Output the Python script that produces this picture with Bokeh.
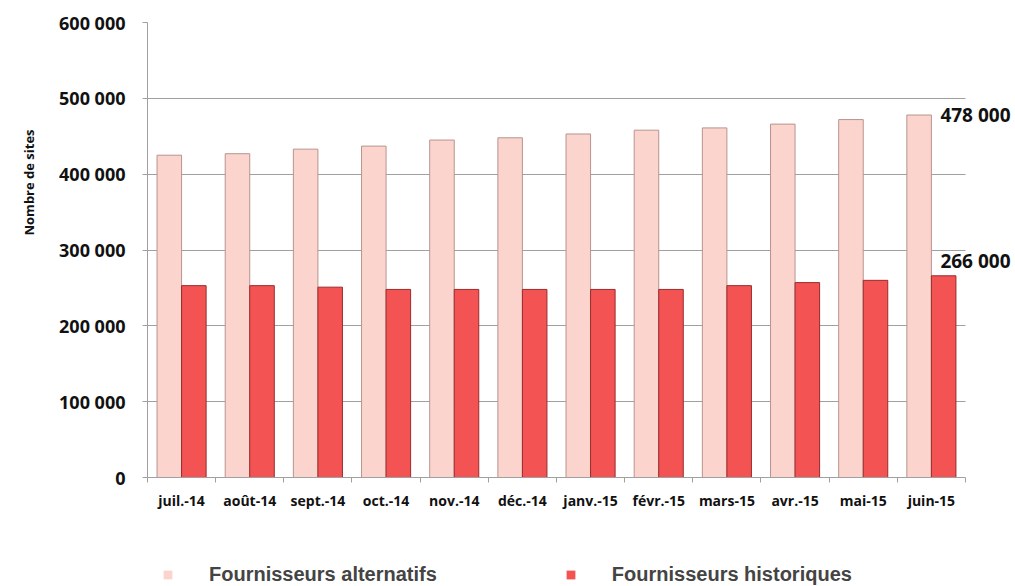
from bokeh.plotting import figure
from bokeh.layouts import column
from bokeh.models import (Range1d, FixedTicker, Label, Legend, LegendItem,
                          ColumnDataSource, Title)
from bokeh.transform import dodge
from bokeh.embed import file_html
from bokeh.resources import INLINE

months = ["juil.-14", "août-14", "sept.-14", "oct.-14", "nov.-14", "déc.-14",
          "janv.-15", "févr.-15", "mars-15", "avr.-15", "mai-15", "juin-15"]
alternatifs = [425000, 427000, 433000, 437000, 445000, 448000,
               453000, 458000, 461000, 466000, 472000, 478000]
historiques = [253000, 253000, 251000, 248000, 248000, 248000,
               248000, 248000, 253000, 257000, 260000, 266000]
y_ticks = [0, 100000, 200000, 300000, 400000, 500000, 600000]
series_names = ["Fournisseurs alternatifs", "Fournisseurs historiques"]
y_title = "Nombre de sites"

PINK = "#FBD4CE"
RED = "#F45353"
PINK_EDGE = "#B8948E"
RED_EDGE = "#9A2B2B"
GRID = "#A0A0A0"
FONT = "Open Sans"
W = 1012

def fmt(v):
    return f"{v:,}".replace(",", " ")

n = len(months)
centers = [i + 0.5 for i in range(n)]
src = ColumnDataSource(dict(x=centers, alt=alternatifs, hist=historiques))

p = figure(x_range=Range1d(0, n + 0.69), y_range=Range1d(0, 600000),
           width=W, height=516, output_backend="svg", toolbar_location=None,
           min_border_left=147, min_border_right=0, min_border_top=22,
           min_border_bottom=39)
p.outline_line_color = None

p.vbar(x=dodge("x", -0.18), top="alt", width=0.36, source=src,
       fill_color=PINK, line_color=PINK_EDGE, line_width=1)
p.vbar(x=dodge("x", 0.18), top="hist", width=0.36, source=src,
       fill_color=RED, line_color=RED_EDGE, line_width=1)

# y axis
yax = p.yaxis[0]
yax.ticker = FixedTicker(ticks=y_ticks)
yax.major_label_overrides = {v: fmt(v) for v in y_ticks}
yax.major_label_text_font = FONT
yax.major_label_text_font_style = "bold"
yax.major_label_text_font_size = "18px"
yax.major_label_text_color = "#111111"
yax.major_label_standoff = 17
yax.major_tick_out = 5
yax.major_tick_in = 0
yax.minor_tick_out = 0
yax.minor_tick_in = 0
yax.axis_line_color = GRID
yax.major_tick_line_color = GRID

p.add_layout(Title(text=y_title, align="left", offset=242, standoff=34,
                   vertical_align="top",
                   text_font=FONT, text_font_style="bold", text_font_size="13px",
                   text_color="#111111"), "left")

p.ygrid.ticker = FixedTicker(ticks=y_ticks)
p.ygrid.grid_line_color = GRID
try:
    p.ygrid.cross_bounds = (0, n)
except Exception:
    pass
p.xgrid.grid_line_color = None

# x axis: labels at category centres, tick marks at category boundaries
xax = p.xaxis[0]
xax.bounds = (0, n)
xax.ticker = FixedTicker(ticks=centers, minor_ticks=list(range(n + 1)))
xax.major_label_overrides = {c: m for c, m in zip(centers, months)}
xax.axis_line_color = GRID
xax.major_tick_out = 0
xax.major_tick_in = 0
xax.minor_tick_out = 5
xax.minor_tick_in = 0
xax.minor_tick_line_color = GRID
xax.major_label_text_font = FONT
xax.major_label_text_font_style = "bold"
xax.major_label_text_font_size = "14px"
xax.major_label_text_color = "#111111"
xax.major_label_standoff = 8

# end labels
last = centers[-1]
p.add_layout(Label(x=last, y=alternatifs[-1], x_offset=9,
                   text=fmt(alternatifs[-1]), text_font=FONT, text_font_style="bold",
                   text_font_size="19px", text_baseline="middle", text_color="#111111"))
p.add_layout(Label(x=last, y=historiques[-1], x_offset=9, y_offset=15,
                   text=fmt(historiques[-1]), text_font=FONT, text_font_style="bold",
                   text_font_size="19px", text_baseline="middle", text_color="#111111"))

# legend strip below the chart (zero-height swatch proxies)
lg = figure(width=W, height=70, output_backend="svg", toolbar_location=None,
            x_range=Range1d(0, 1), y_range=Range1d(0, 1),
            min_border=0, outline_line_color=None)
lg.axis.visible = False
lg.grid.visible = False
k_alt = lg.vbar(x=[0.5], top=[0], bottom=[0], width=0.1, fill_color=PINK, line_color=None)
k_hist = lg.vbar(x=[0.5], top=[0], bottom=[0], width=0.1, fill_color=RED, line_color=None)
legend = Legend(items=[LegendItem(label=series_names[0], renderers=[k_alt]),
                       LegendItem(label=series_names[1], renderers=[k_hist])],
                orientation="horizontal", location=(15, 0),
                glyph_width=11, glyph_height=11, label_standoff=36, spacing=128,
                padding=0, margin=0, border_line_alpha=0, background_fill_alpha=0,
                label_text_font="Liberation Sans", label_text_font_style="bold",
                label_text_font_size="20px", label_height=12)
lg.add_layout(legend, "center")

layout = column(p, lg, spacing=0)
open("out.html", "w").write(file_html(layout, INLINE))
